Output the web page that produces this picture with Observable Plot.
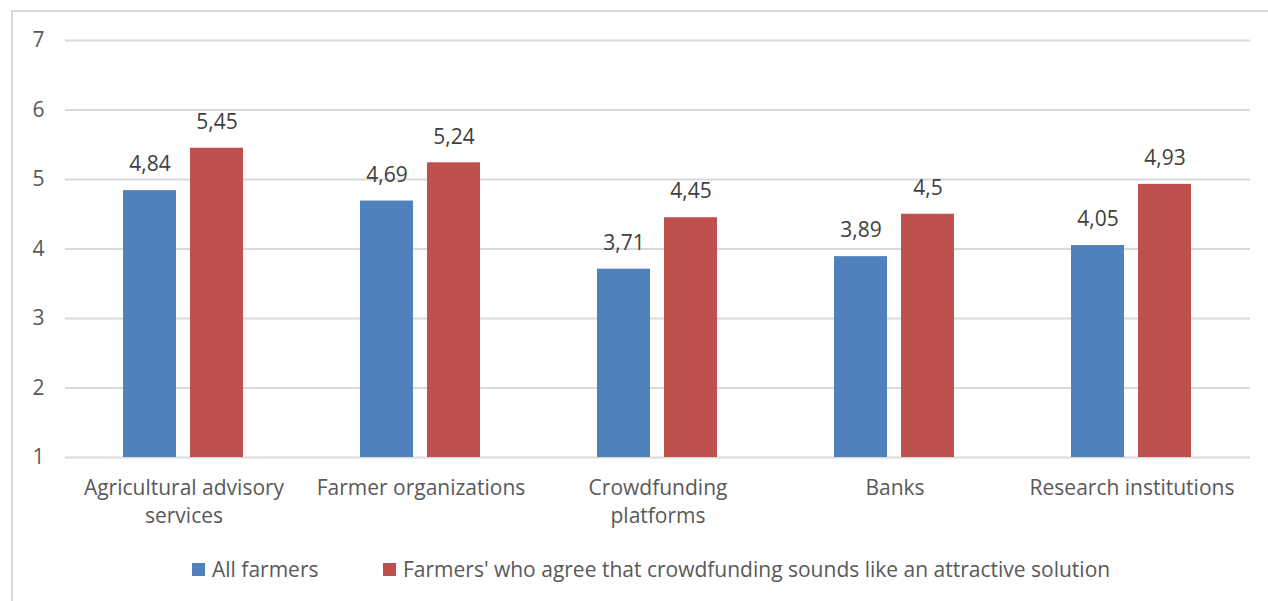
<!DOCTYPE html>
<html>
<head>
<meta charset="utf-8">
<script src="https://cdn.jsdelivr.net/npm/d3@7"></script>
<script src="https://cdn.jsdelivr.net/npm/@observablehq/plot@0.6"></script>
<style>
  html, body { margin: 0; padding: 0; background: #fff; }
  body { width: 1268px; height: 601px; position: relative; overflow: hidden; font-family: "Open Sans", Lato, sans-serif; }
  #frame { position: absolute; left: 11px; top: 10px; width: 1270px; height: 600px; border-left: 2px solid #d9d9d9; border-top: 2px solid #d9d9d9; box-sizing: border-box; }
  #chart { position: absolute; left: 0; top: 0; }
  .item { position: absolute; top: 555px; display: flex; align-items: center; font-size: 21px; color: #595959; white-space: nowrap; }
  .sw { display: inline-block; width: 13px; height: 13px; margin-right: 7px; }
</style>
</head>
<body>
<div id="frame"></div>
<div id="chart"></div>
<div id="legend"></div>
<script>
const categories = ["Agricultural advisory services", "Farmer organizations", "Crowdfunding platforms", "Banks", "Research institutions"];
const categoryLabels = ["Agricultural advisory\nservices", "Farmer organizations", "Crowdfunding\nplatforms", "Banks", "Research institutions"];
const series = ["All farmers", "Farmers' who agree that crowdfunding sounds like an attractive solution"];
const allFarmers = [4.84, 4.69, 3.71, 3.89, 4.05];
const agreeFarmers = [5.45, 5.24, 4.45, 4.5, 4.93];
const labelsAll = ["4,84", "4,69", "3,71", "3,89", "4,05"];
const labelsAgree = ["5,45", "5,24", "4,45", "4,5", "4,93"];
const colors = ["#4f81bd", "#c0504d"];
const yTicks = [1, 2, 3, 4, 5, 6, 7];

const data = [];
categories.forEach((c, i) => {
  data.push({category: c, series: series[0], value: allFarmers[i], label: labelsAll[i]});
  data.push({category: c, series: series[1], value: agreeFarmers[i], label: labelsAgree[i]});
});
const labelMap = new Map(categories.map((c, i) => [c, categoryLabels[i]]));
const font = "'Open Sans', Lato, sans-serif";

const chart = Plot.plot({
  width: 1268,
  height: 535,
  marginLeft: 63,
  marginRight: 16,
  marginTop: 40,
  marginBottom: 78,
  style: {fontFamily: font, fontSize: "21px", color: "#595959", background: "transparent"},
  fx: {domain: categories, padding: 0, label: null, axis: null},
  x: {domain: series, paddingInner: 0.206, paddingOuter: 0.853, axis: null},
  y: {domain: [1, 7], label: null, axis: null},
  color: {domain: series, range: colors},
  marks: [
    Plot.gridY(yTicks, {stroke: "#d9d9d9", strokeOpacity: 1, strokeWidth: 2}),
    Plot.axisY(yTicks, {anchor: "left", tickSize: 0, tickPadding: 21, tickFormat: d => String(d), fill: "#595959", fontSize: 21, label: null}),
    Plot.axisFx({anchor: "bottom", tickSize: 0, tickPadding: 18, tickFormat: d => labelMap.get(d), lineHeight: 1.33, fill: "#595959", fontSize: 21, label: null}),
    Plot.barY(data, {fx: "category", x: "series", y1: 1, y2: "value", fill: "series"}),
    Plot.text(data, {fx: "category", x: "series", y: "value", text: "label", dy: -26, fill: "#404040", fontSize: 21})
  ]
});
document.getElementById("chart").appendChild(chart);

const legend = document.getElementById("legend");
const legendLeft = [192, 383];
series.forEach((s, i) => {
  const item = document.createElement("span");
  item.className = "item";
  item.style.left = legendLeft[i] + "px";
  const sw = document.createElement("span");
  sw.className = "sw";
  sw.style.background = colors[i];
  item.appendChild(sw);
  item.appendChild(document.createTextNode(s));
  legend.appendChild(item);
});
</script>
</body>
</html>
